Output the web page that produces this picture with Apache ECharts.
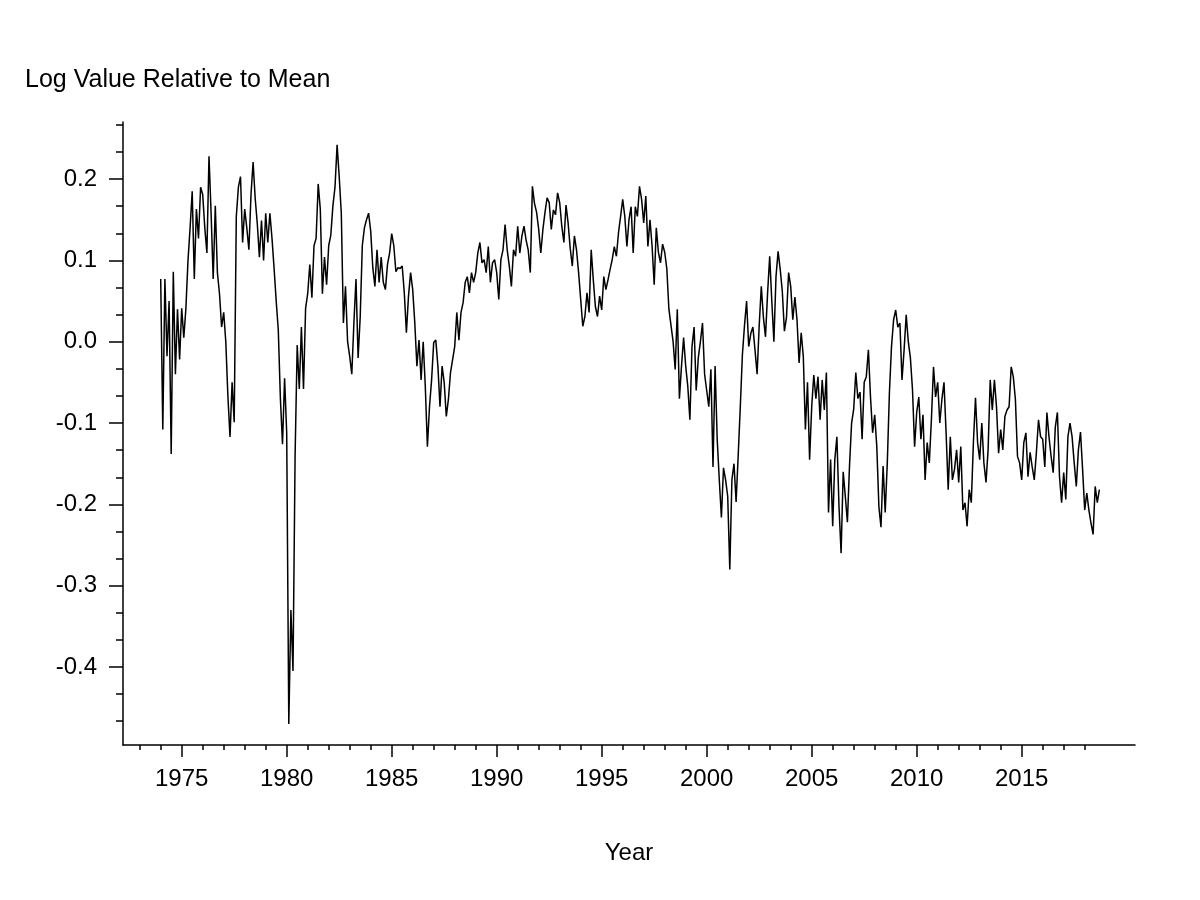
<!DOCTYPE html>
<html>
<head>
<meta charset="utf-8">
<title>Log Value Relative to Mean</title>
<script src="https://cdn.jsdelivr.net/npm/echarts@6/dist/echarts.min.js"></script>
<style>
html, body { margin: 0; padding: 0; background: #fff; }
#main { width: 1200px; height: 900px; }
</style>
</head>
<body>
<div id="main"></div>
<script>
// readings every 0.1 year from 1974.0, one row per year
var startYear = 1974;
var stepYear = 0.1;

var vals1974to1979 = [
    0.077, -0.108, 0.077, -0.018, 0.05, -0.138, 0.086, -0.04, 0.04, -0.022,
    0.041, 0.005, 0.041, 0.1, 0.14, 0.185, 0.077, 0.163, 0.127, 0.19,
    0.181, 0.14, 0.109, 0.228, 0.158, 0.077, 0.167, 0.085, 0.059, 0.018,
    0.036, 0.0, -0.067, -0.117, -0.05, -0.099, 0.154, 0.19, 0.203, 0.122,
    0.163, 0.14, 0.113, 0.181, 0.221, 0.176, 0.145, 0.104, 0.149, 0.1,
    0.158, 0.122, 0.158, 0.127, 0.09, 0.05, 0.014, -0.07, -0.126, -0.045
];
var vals1980s = [
    -0.112, -0.47, -0.33, -0.405, -0.14, -0.004, -0.058, 0.018, -0.058, 0.041,
    0.059, 0.095, 0.054, 0.118, 0.127, 0.194, 0.163, 0.059, 0.104, 0.07,
    0.118, 0.131, 0.167, 0.19, 0.242, 0.203, 0.158, 0.023, 0.068, 0.0,
    -0.018, -0.04, 0.023, 0.077, -0.02, 0.03, 0.118, 0.14, 0.15, 0.158,
    0.136, 0.091, 0.068, 0.113, 0.073, 0.104, 0.073, 0.064, 0.095, 0.109,
    0.133, 0.118, 0.086, 0.091, 0.09, 0.093, 0.06, 0.011, 0.056, 0.085,
    0.064, 0.023, -0.03, 0.002, -0.047, 0.0, -0.055, -0.129, -0.08, -0.047,
    -0.001, 0.002, -0.03, -0.08, -0.03, -0.05, -0.092, -0.071, -0.038, -0.022,
    -0.006, 0.036, 0.002, 0.036, 0.048, 0.073, 0.08, 0.06, 0.085, 0.073,
    0.085, 0.109, 0.122, 0.097, 0.101, 0.085, 0.117, 0.073, 0.097, 0.101
];
var vals1990s = [
    0.085, 0.052, 0.101, 0.113, 0.144, 0.113, 0.093, 0.068, 0.113, 0.105,
    0.142, 0.109, 0.13, 0.142, 0.125, 0.113, 0.085, 0.191, 0.17, 0.159,
    0.138, 0.109, 0.138, 0.159, 0.177, 0.171, 0.138, 0.162, 0.156, 0.183,
    0.171, 0.142, 0.122, 0.168, 0.146, 0.115, 0.093, 0.13, 0.113, 0.085,
    0.052, 0.019, 0.031, 0.06, 0.036, 0.113, 0.076, 0.043, 0.031, 0.056,
    0.039, 0.08, 0.064, 0.076, 0.089, 0.101, 0.117, 0.105, 0.134, 0.154,
    0.175, 0.154, 0.117, 0.15, 0.166, 0.109, 0.166, 0.154, 0.191, 0.175,
    0.146, 0.179, 0.117, 0.15, 0.117, 0.07, 0.14, 0.11, 0.097, 0.12,
    0.11, 0.09, 0.04, 0.02, 0.0, -0.034, 0.04, -0.07, -0.03, 0.005,
    -0.03, -0.055, -0.096, -0.006, 0.018, -0.06, -0.02, 0.0, 0.023, -0.04
];
var vals2000s = [
    -0.06, -0.08, -0.034, -0.154, -0.03, -0.12, -0.17, -0.216, -0.155, -0.17,
    -0.19, -0.28, -0.17, -0.15, -0.197, -0.14, -0.08, -0.016, 0.02, 0.05,
    -0.006, 0.01, 0.018, -0.01, -0.04, 0.02, 0.068, 0.03, 0.006, 0.06,
    0.105, 0.05, 0.0, 0.08, 0.111, 0.089, 0.062, 0.013, 0.03, 0.085,
    0.068, 0.027, 0.055, 0.027, -0.026, 0.011, -0.018, -0.108, -0.05, -0.145,
    -0.08, -0.041, -0.07, -0.043, -0.096, -0.047, -0.084, -0.038, -0.21, -0.145,
    -0.227, -0.145, -0.117, -0.203, -0.26, -0.16, -0.19, -0.222, -0.153, -0.1,
    -0.083, -0.038, -0.07, -0.062, -0.12, -0.05, -0.043, -0.01, -0.068, -0.112,
    -0.09, -0.129, -0.203, -0.228, -0.153, -0.21, -0.149, -0.063, -0.006, 0.027,
    0.039, 0.018, 0.023, -0.047, -0.01, 0.033, 0.0, -0.02, -0.059, -0.129
];
var vals2010s = [
    -0.087, -0.068, -0.12, -0.09, -0.17, -0.124, -0.149, -0.096, -0.031, -0.068,
    -0.05, -0.1, -0.071, -0.05, -0.112, -0.182, -0.117, -0.17, -0.157, -0.133,
    -0.173, -0.129, -0.207, -0.198, -0.227, -0.182, -0.198, -0.124, -0.069, -0.124,
    -0.145, -0.1, -0.149, -0.173, -0.133, -0.047, -0.084, -0.047, -0.08, -0.137,
    -0.108, -0.133, -0.092, -0.084, -0.08, -0.031, -0.043, -0.071, -0.141, -0.149,
    -0.17, -0.124, -0.112, -0.166, -0.136, -0.154, -0.17, -0.136, -0.096, -0.117,
    -0.12, -0.154, -0.087, -0.117, -0.141, -0.161, -0.105, -0.087, -0.166, -0.198,
    -0.161, -0.194, -0.117, -0.1, -0.117, -0.149, -0.178, -0.133, -0.111, -0.157,
    -0.207, -0.186, -0.207, -0.223, -0.237, -0.178, -0.198, -0.182
];

// tick ranges
var minorYearFirst = 1973, minorYearLast = 2018;
var majorYearFirst = 1975, majorYearLast = 2015, majorYearStep = 5;
var minorValSteps = 30;           // minor ticks every 1/30
var minorValFirst = -14, minorValLast = 8;
var majorValFirst = -0.4, majorValLast = 0.2, majorValStep = 0.1;

var yTitle = 'Log Value Relative to Mean';
var xTitle = 'Year';

// page layout (pixels)
var plotLeft = 123, plotRight = 1135, plotTop = 122, plotBottom = 745;
var x1975 = 181.7, pxPerYear = 21.0;
var yZero = 341.7, pxPerUnit = 813.3;
var fontName = "'Liberation Sans', Arial, Helvetica, sans-serif";

function xPix(yr) { return x1975 + (yr - 1975) * pxPerYear; }
function yPix(v) { return yZero - v * pxPerUnit; }
function yrAt(px) { return 1975 + (px - x1975) / pxPerYear; }
function valAt(py) { return (yZero - py) / pxPerUnit; }

function buildData() {
    var all = vals1974to1979.concat(vals1980s, vals1990s, vals2000s, vals2010s);
    var data = [];
    for (var i = 0; i < all.length; i++) {
        var yr = Math.round((startYear + i * stepYear) * 100) / 100;
        data.push([yr, all[i]]);
    }
    return data;
}

function bareAxis(extra) {
    var ax = {
        type: 'value',
        axisLine: { show: false, onZero: false },
        axisTick: { show: false },
        axisLabel: { show: false },
        splitLine: { show: false }
    };
    for (var k in extra) ax[k] = extra[k];
    return ax;
}

var chart = echarts.init(document.getElementById('main'), null, { renderer: 'canvas' });
var lineSt = { color: '#000', width: 1.5 };
var labelFont = { color: '#000', fontSize: 24, fontFamily: fontName };

var option = {
    backgroundColor: '#fff',
    animation: false,
    title: {
        text: yTitle, left: 20, top: 63,
        textStyle: { color: '#000', fontSize: 25, fontWeight: 'normal', fontFamily: fontName }
    },
    grid: [
        { left: plotLeft, right: 1200 - plotRight, top: plotTop, bottom: 900 - plotBottom, outerBoundsMode: 'none' },
        { left: xPix(minorYearFirst), right: 1200 - xPix(minorYearLast),
          top: yPix(minorValLast / minorValSteps), bottom: 900 - yPix(minorValFirst / minorValSteps), outerBoundsMode: 'none' },
        { left: xPix(majorYearFirst), right: 1200 - xPix(majorYearLast),
          top: yPix(majorValLast), bottom: 900 - yPix(majorValFirst), outerBoundsMode: 'none' }
    ],
    xAxis: [
        bareAxis({
            gridIndex: 0, min: yrAt(plotLeft), max: yrAt(plotRight),
            axisLine: { show: true, onZero: false, lineStyle: lineSt },
            name: xTitle, nameLocation: 'middle', nameGap: 96,
            nameTextStyle: labelFont
        }),
        bareAxis({
            gridIndex: 1, min: 0, max: minorYearLast - minorYearFirst, interval: 1,
            offset: plotBottom - yPix(minorValFirst / minorValSteps),
            axisTick: { show: true, length: 5, lineStyle: lineSt }
        }),
        bareAxis({
            gridIndex: 2, min: majorYearFirst, max: majorYearLast, interval: majorYearStep,
            offset: plotBottom - yPix(majorValFirst),
            axisTick: { show: true, length: 12, lineStyle: lineSt },
            axisLabel: {
                show: true, margin: 22, color: '#000', fontSize: 24, fontFamily: fontName,
                formatter: function (v) { return String(Math.round(v)); }
            }
        })
    ],
    yAxis: [
        bareAxis({
            gridIndex: 0, min: valAt(plotBottom), max: valAt(plotTop),
            axisLine: { show: true, onZero: false, lineStyle: lineSt }
        }),
        bareAxis({
            gridIndex: 1, min: 0, max: minorValLast - minorValFirst, interval: 1,
            offset: xPix(minorYearFirst) - plotLeft,
            axisTick: { show: true, length: 7, lineStyle: lineSt }
        }),
        bareAxis({
            gridIndex: 2, min: majorValFirst, max: majorValLast, interval: majorValStep,
            offset: xPix(majorYearFirst) - plotLeft,
            axisTick: { show: true, length: 14, lineStyle: lineSt },
            axisLabel: {
                show: true, margin: 26, color: '#000', fontSize: 24, fontFamily: fontName,
                formatter: function (v) { return v.toFixed(1); }
            }
        })
    ],
    series: [{
        type: 'line',
        xAxisIndex: 0,
        yAxisIndex: 0,
        data: buildData(),
        symbol: 'none',
        showSymbol: false,
        silent: true,
        lineStyle: { color: '#000', width: 1.5 }
    }]
};
chart.setOption(option);
</script>
</body>
</html>
